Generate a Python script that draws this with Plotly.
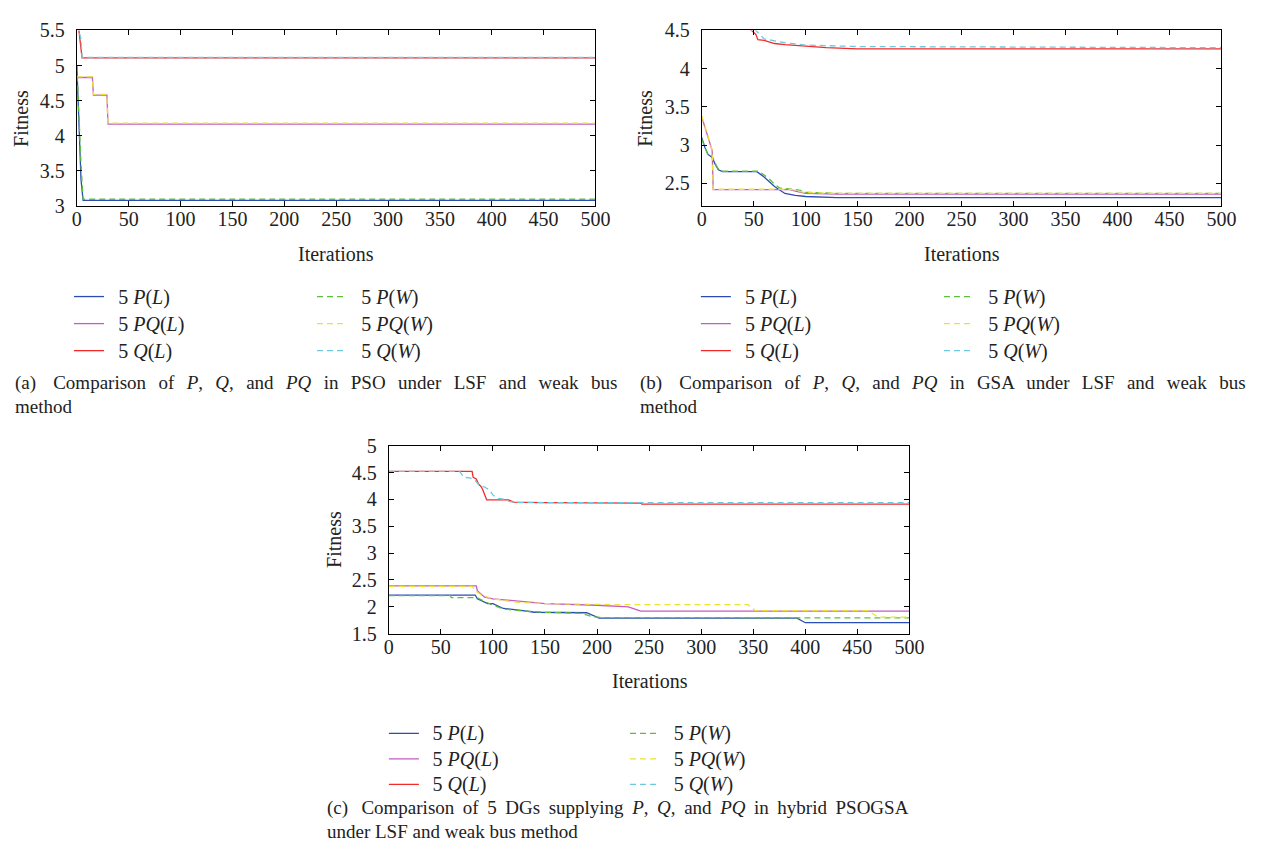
import plotly.graph_objects as go

W, H = 1261, 864
FONT = "Liberation Serif, Times New Roman, serif"

# ---------------- data ----------------
# (a) PSO
a_PL_x = [0, 2, 4, 6, 500]
a_PL_y = [5.0, 4.22, 3.38, 3.08, 3.08]
a_PQL_x = [0, 15, 16, 29, 30, 500]
a_PQL_y = [4.83, 4.83, 4.58, 4.58, 4.165, 4.165]
a_QL_x = [0, 2, 5, 500]
a_QL_y = [5.6, 5.5, 5.11, 5.11]
a_PW_x = [0, 2, 4, 6, 500]
a_PW_y = [5.0, 4.2, 3.6, 3.095, 3.095]
a_PQW_x = [0, 15, 16, 29, 30, 500]
a_PQW_y = [4.84, 4.84, 4.59, 4.59, 4.178, 4.178]
a_QW_x = [0, 4, 5, 500]
a_QW_y = [5.6, 5.38, 5.115, 5.115]

# (b) GSA
b_PL_x = [0, 3, 6, 10, 13, 16, 20, 53, 60, 65, 70, 75, 80, 90, 100, 130, 500]
b_PL_y = [3.10, 2.97, 2.88, 2.84, 2.75, 2.68, 2.655, 2.655, 2.585, 2.52, 2.46, 2.415, 2.37, 2.345, 2.33, 2.315, 2.315]
b_PQL_x = [0, 10, 11, 85, 90, 95, 100, 130, 500]
b_PQL_y = [3.37, 2.93, 2.42, 2.42, 2.40, 2.38, 2.37, 2.36, 2.36]
b_QL_x = [0, 48, 52, 54, 60, 70, 80, 100, 120, 150, 500]
b_QL_y = [4.9, 4.5, 4.45, 4.38, 4.37, 4.33, 4.315, 4.295, 4.275, 4.26, 4.26]
b_PW_x = [0, 3, 6, 10, 13, 16, 20, 55, 60, 65, 70, 75, 85, 95, 100, 130, 500]
b_PW_y = [3.08, 2.97, 2.87, 2.86, 2.76, 2.69, 2.66, 2.66, 2.61, 2.56, 2.49, 2.44, 2.43, 2.41, 2.385, 2.37, 2.37]
b_PQW_x = [0, 10, 11, 85, 90, 95, 100, 130, 500]
b_PQW_y = [3.38, 2.94, 2.425, 2.425, 2.41, 2.39, 2.38, 2.372, 2.372]
b_QW_x = [0, 52, 60, 70, 80, 100, 150, 500]
b_QW_y = [4.9, 4.5, 4.39, 4.36, 4.34, 4.31, 4.29, 4.275]

# (c) hybrid PSOGSA
c_PL_x = [0, 83, 85, 95, 100, 110, 125, 140, 190, 195, 202, 392, 400, 500]
c_PL_y = [2.22, 2.22, 2.15, 2.06, 2.06, 1.97, 1.94, 1.90, 1.89, 1.85, 1.79, 1.79, 1.705, 1.705]
c_PQL_x = [0, 84, 85, 88, 92, 100, 110, 120, 130, 140, 150, 200, 230, 242, 500]
c_PQL_y = [2.39, 2.39, 2.30, 2.24, 2.18, 2.15, 2.13, 2.12, 2.09, 2.08, 2.06, 2.03, 2.0, 1.92, 1.92]
c_QL_x = [0, 80, 81, 84, 86, 89, 91, 94, 115, 120, 150, 200, 242, 243, 500]
c_QL_y = [4.52, 4.52, 4.41, 4.38, 4.29, 4.23, 4.14, 3.99, 3.99, 3.95, 3.94, 3.93, 3.93, 3.91, 3.91]
c_PW_x = [0, 59, 60, 85, 90, 100, 110, 125, 150, 185, 195, 205, 500]
c_PW_y = [2.21, 2.21, 2.17, 2.17, 2.12, 2.03, 1.96, 1.93, 1.90, 1.88, 1.82, 1.80, 1.795]
c_PQW_x = [0, 80, 85, 90, 100, 120, 150, 200, 220, 345, 352, 460, 470, 500]
c_PQW_y = [2.38, 2.38, 2.27, 2.21, 2.15, 2.09, 2.06, 2.05, 2.04, 2.04, 1.93, 1.93, 1.81, 1.81]
c_QW_x = [0, 68, 72, 78, 83, 87, 92, 97, 100, 105, 109, 116, 125, 500]
c_QW_y = [4.52, 4.52, 4.41, 4.40, 4.35, 4.26, 4.23, 4.17, 4.08, 4.02, 4.01, 3.96, 3.94, 3.94]

names_L = ["5 <i>P</i>(<i>L</i>)", "5 <i>PQ</i>(<i>L</i>)", "5 <i>Q</i>(<i>L</i>)"]
names_W = ["5 <i>P</i>(<i>W</i>)", "5 <i>PQ</i>(<i>W</i>)", "5 <i>Q</i>(<i>W</i>)"]
colors_L = ["#2a4db5", "#c45cc4", "#f22a2a"]
colors_W = ["#5cbf3c", "#ece233", "#6ec8de"]

x_ticks = [0, 50, 100, 150, 200, 250, 300, 350, 400, 450, 500]

panels = [
    dict(L=[(a_PL_x, a_PL_y), (a_PQL_x, a_PQL_y), (a_QL_x, a_QL_y)],
         Wd=[(a_PW_x, a_PW_y), (a_PQW_x, a_PQW_y), (a_QW_x, a_QW_y)],
         xpx=(73, 600), ypx=(20, 200), yr=[3, 5.5], t0=3,
         legL=(65, 274), legW=(312, 274), fs=18.5),
    dict(L=[(b_PL_x, b_PL_y), (b_PQL_x, b_PQL_y), (b_QL_x, b_QL_y)],
         Wd=[(b_PW_x, b_PW_y), (b_PQW_x, b_PQW_y), (b_QW_x, b_QW_y)],
         xpx=(708, 1236), ypx=(20, 200), yr=[2.207, 4.5], t0=2.5,
         legL=(702, 274), legW=(949, 274), fs=18.5),
    dict(L=[(c_PL_x, c_PL_y), (c_PQL_x, c_PQL_y), (c_QL_x, c_QL_y)],
         Wd=[(c_PW_x, c_PW_y), (c_PQW_x, c_PQW_y), (c_QW_x, c_QW_y)],
         xpx=(390, 919), ypx=(446, 639), yr=[1.5, 5], t0=1.5,
         legL=(385, 723), legW=(630, 723), fs=17.3),
]

fig = go.Figure()
NB = "\u00a0\u00a0"
def leg_name(s):
    return NB + '<span style="font-size:20px">' + s + "</span>"

layout = {}
for i, p in enumerate(panels):
    k = "" if i == 0 else str(i + 1)
    xa, ya = "x" + k, "y" + k
    lg1 = "legend" if i == 0 else "legend" + str(2 * i + 1)
    lg2 = "legend" + str(2 * i + 2)
    for (xs, ys), nm, c in zip(p["L"], names_L, colors_L):
        fig.add_trace(go.Scatter(x=xs, y=ys, mode="lines", name=leg_name(nm),
                                 line=dict(color=c, width=1.3),
                                 xaxis=xa, yaxis=ya, legend=lg1, hoverinfo="skip"))
    for (xs, ys), nm, c in zip(p["Wd"], names_W, colors_W):
        fig.add_trace(go.Scatter(x=xs, y=ys, mode="lines", name=leg_name(nm),
                                 line=dict(color=c, width=1.3, dash="6px,4px"),
                                 xaxis=xa, yaxis=ya, legend=lg2, hoverinfo="skip"))
    common = dict(showline=True, linecolor="black", linewidth=1, mirror="ticks",
                  ticks="inside", ticklen=5, tickwidth=1, tickcolor="black",
                  showgrid=False, zeroline=False,
                  tickfont=dict(family=FONT, size=20, color="#222"))
    layout["xaxis" + k] = dict(domain=[p["xpx"][0] / W, p["xpx"][1] / W],
                               range=[0, 500], tickvals=x_ticks, anchor=ya,
                               ticklabelstandoff=-5, **common)
    layout["yaxis" + k] = dict(domain=[1 - p["ypx"][1] / H, 1 - p["ypx"][0] / H],
                               range=p["yr"], tick0=p["t0"], dtick=0.5, anchor=xa,
                               ticklabelstandoff=7, **common)
    for lg, (lx, ly) in ((lg1, p["legL"]), (lg2, p["legW"])):
        layout[lg] = dict(x=lx / W, y=1 - ly / H, xanchor="left", yanchor="top",
                          bgcolor="rgba(0,0,0,0)", borderwidth=0, tracegroupgap=0,
                          font=dict(family=FONT, size=p["fs"], color="#222"))

anns = []
def txt(x, y, s, size=20, angle=0, xanchor="center"):
    anns.append(dict(x=x / W, y=1 - y / H, xref="paper", yref="paper", text=s,
                     showarrow=False, textangle=angle, xanchor=xanchor, yanchor="middle",
                     font=dict(family=FONT, size=size, color="#222")))

txt(16, 110, "Fitness", angle=-90)
txt(651, 110, "Fitness", angle=-90)
txt(334, 542, "Fitness", angle=-90)
txt(336, 249, "Iterations")
txt(972, 249, "Iterations")
txt(655, 688, "Iterations")

J = " \u2009\u2009"
Jc = " \u2009"
cap_a1 = ["(a)\u00a0", "Comparison", "of", "<i>P</i>,", "<i>Q</i>,", "and", "<i>PQ</i>", "in",
          "PSO", "under", "LSF", "and", "weak", "bus"]
cap_b1 = ["(b)\u00a0", "Comparison", "of", "<i>P</i>,", "<i>Q</i>,", "and", "<i>PQ</i>", "in",
          "GSA", "under", "LSF", "and", "weak", "bus"]
cap_c1 = ["(c)\u00a0", "Comparison", "of", "5", "DGs", "supplying", "<i>P</i>,", "<i>Q</i>,",
          "and", "<i>PQ</i>", "in", "hybrid", "PSOGSA"]
CS = 19
txt(8, 382, J.join(cap_a1), size=CS, xanchor="left")
txt(8, 406, "method", size=CS, xanchor="left")
txt(643, 382, J.join(cap_b1), size=CS, xanchor="left")
txt(643, 406, "method", size=CS, xanchor="left")
txt(325, 818, Jc.join(cap_c1), size=CS, xanchor="left")
txt(325, 842, "under LSF and weak bus method", size=CS, xanchor="left")

fig.update_layout(width=W, height=H, margin=dict(l=0, r=0, t=0, b=0),
                  paper_bgcolor="white", plot_bgcolor="white",
                  font=dict(family=FONT, color="#222"),
                  annotations=anns, **layout)

fig.write_html("out.html", config={"displayModeBar": False},
               post_script="document.body.style.margin='0';document.body.style.overflow='hidden';")
